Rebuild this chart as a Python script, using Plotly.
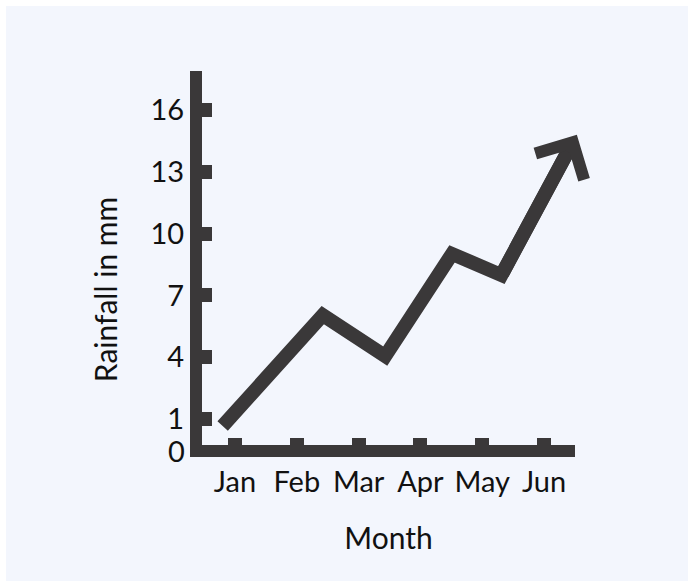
import plotly.graph_objects as go

# ---- data ----
months = ["Jan", "Feb", "Mar", "Apr", "May", "Jun"]
month_pos = [0, 1, 2, 3, 4, 5]
line_x = [-0.2, 1.42, 2.43, 3.51, 4.31, 5.53]     # horizontal position of each vertex (month units)
rainfall = [0.66, 6.05, 4.06, 9.02, 7.99, 14.8]   # rainfall in mm
ytick_vals = [1, 4, 7, 10, 13, 16]
zero_label = "0"
x_title = "Month"
y_title = "Rainfall in mm"
x_range = [-0.534, 5.50]
y_range = [-0.26, 17.9]

INK = "#3a3839"
BG = "#F3F6FD"
TXT = "#111111"
FONT = "Lato"
FS = 29

# line stops a bit short of the tip, the arrow head covers the rest
f = 0.925
end_x = line_x[-2] + f * (line_x[-1] - line_x[-2])
end_y = rainfall[-2] + f * (rainfall[-1] - rainfall[-2])

fig = go.Figure()
fig.add_trace(go.Scatter(
    x=line_x[:-1] + [end_x], y=rainfall[:-1] + [end_y],
    mode="lines", line=dict(color=INK, width=14),
    hoverinfo="skip", showlegend=False, cliponaxis=False,
))

fig.add_annotation(
    x=line_x[-1], y=rainfall[-1], ax=line_x[-2], ay=rainfall[-2],
    xref="x", yref="y", axref="x", ayref="y",
    text="", showarrow=True, arrowhead=4, arrowwidth=14, arrowsize=0.76,
    arrowcolor=INK, standoff=0,
)

# the "0" label sits on the x-axis line
fig.add_annotation(
    x=0, y=0, xref="paper", yref="paper", text=zero_label, showarrow=False,
    xanchor="right", yanchor="middle", xshift=-16, yshift=-5, borderpad=0,
    font=dict(size=FS, family=FONT, color=TXT),
)

# y-axis title (placed a little below the plot centre, as in the original)
fig.add_annotation(
    x=0, y=0.414, xref="paper", yref="paper", text=y_title, showarrow=False,
    textangle=-90, xanchor="center", yanchor="middle", xshift=-97,
    font=dict(size=30, family=FONT, color=TXT),
)

fig.update_layout(
    width=694, height=587,
    margin=dict(l=196, r=125, t=65, b=148),
    paper_bgcolor=BG, plot_bgcolor=BG,
    font=dict(family=FONT, size=FS, color=TXT),
    showlegend=False,
    xaxis=dict(
        range=x_range, tickmode="array", tickvals=month_pos, ticktext=months,
        showline=True, linewidth=12, linecolor=INK,
        ticks="inside", ticklen=7, tickwidth=14, tickcolor=INK,
        showgrid=False, zeroline=False,
        title=dict(text=x_title, font=dict(size=30), standoff=36),
        tickfont=dict(size=FS),
    ),
    yaxis=dict(
        range=y_range, tickmode="array", tickvals=ytick_vals,
        showline=True, linewidth=12, linecolor=INK,
        ticks="inside", ticklen=10, tickwidth=14, tickcolor=INK,
        showgrid=False, zeroline=False,
        tickfont=dict(size=FS),
    ),
)

fig.write_html("out.html", post_script="document.body.style.margin='6px 0 0 6px';")
